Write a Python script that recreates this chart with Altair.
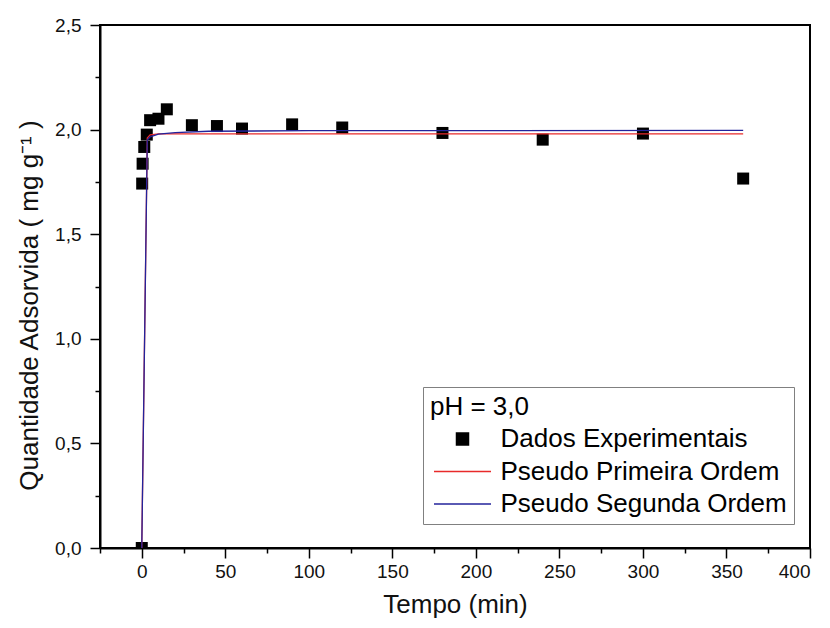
import altair as alt
import pandas as pd

FONT = "Liberation Sans"

# Experimental data (time in min, adsorbed amount in mg/g)
tempo_exp = [0, 0.25, 0.5, 1.5, 3, 5, 10, 15, 30, 45, 60, 90, 120, 180, 240, 300, 360]
q_exp = [0.0, 1.742, 1.837, 1.917, 1.976, 2.045, 2.052, 2.097, 2.021, 2.017, 2.005, 2.025, 2.010, 1.984, 1.952, 1.981, 1.766]

# Pseudo first order curve
tempo_ppo = [0, 3.3, 5, 10, 360]
q_ppo = [0.0, 1.960, 1.975, 1.980, 1.980]

# Pseudo second order curve
tempo_pso = [0, 3.3, 5, 10, 20, 40, 100, 360]
q_pso = [0.0, 1.950, 1.965, 1.978, 1.986, 1.992, 1.995, 1.996]

series = ["Dados Experimentais", "Pseudo Primeira Ordem", "Pseudo Segunda Ordem"]
colors = ["#000000", "#e82a2a", "#23239b"]

x_ticks = [-25, 0, 25, 50, 75, 100, 125, 150, 175, 200, 225, 250, 275, 300, 325, 350, 375, 400]
y_ticks = [0.0, 0.25, 0.5, 0.75, 1.0, 1.25, 1.5, 1.75, 2.0, 2.25, 2.5]

pts = pd.DataFrame({"t": tempo_exp, "q": q_exp, "serie": series[0]})
l1 = pd.DataFrame({"t": tempo_ppo, "q": q_ppo, "serie": series[1]})
l2 = pd.DataFrame({"t": tempo_pso, "q": q_pso, "serie": series[2]})

xs = alt.Scale(domain=[-25, 400], nice=False, zero=False)
ys = alt.Scale(domain=[0, 2.5], nice=False)
cs = alt.Scale(domain=series, range=colors)

legend = alt.Legend(
    title="pH = 3,0",
    orient="none",
    legendX=323,
    legendY=362,
    padding=7,
    strokeColor="#808080",
    fillColor="white",
    titleFontSize=26,
    titleFontWeight="normal",
    titleColor="black",
    titleFont=FONT,
    titlePadding=6,
    labelFontSize=26,
    labelFont=FONT,
    labelColor="black",
    labelLimit=600,
    labelOffset=25,
    symbolOffset=19.5,
    rowPadding=6.5,
    symbolSize=144,
    symbolStrokeWidth=1.5,
    symbolType={"expr": "datum.label == 'Dados Experimentais' ? 'square' : 'M-4.75,0H4.75'"},
    symbolStrokeColor={"expr": "datum.label == 'Pseudo Primeira Ordem' ? '#e82a2a' : (datum.label == 'Pseudo Segunda Ordem' ? '#23239b' : 'black')"},
)

x_axis = alt.Axis(
    values=x_ticks, title="Tempo (min)",
    tickSize={"expr": "datum.value % 50 == 0 ? 10 : 5"},
    labelExpr="datum.value % 50 == 0 ? format(datum.value, 'd') : ''",
    labelPadding=4, labelFontSize=19, labelColor="#111111", labelFont=FONT,
    titleFontSize=26, titlePadding=10, titleFont=FONT, titleFontWeight="normal",
    titleColor="#111111", orient="bottom", grid=False,
    domainColor="black", domainWidth=2, tickColor="black", tickWidth=1.5,
)
y_axis = alt.Axis(
    values=y_ticks, title="Quantidade Adsorvida ( mg g\u207b\u00b9 )",
    tickSize={"expr": "abs(datum.value * 2 - round(datum.value * 2)) < 0.01 ? 10 : 5"},
    labelExpr="abs(datum.value * 2 - round(datum.value * 2)) < 0.01 ? replace(format(datum.value, '.1f'), '.', ',') : ''",
    labelPadding=9, labelFontSize=19, labelColor="#111111", labelFont=FONT,
    titleFontSize=26, titlePadding=12, titleFont=FONT, titleFontWeight="normal",
    titleColor="#111111", orient="left", grid=False, titleY=280,
    domainColor="black", domainWidth=2, tickColor="black", tickWidth=1.5,
)

points = alt.Chart(pts).mark_point(
    shape="square", filled=True, size=144, opacity=1, clip=True
).encode(
    x=alt.X("t:Q", scale=xs, axis=x_axis),
    y=alt.Y("q:Q", scale=ys, axis=y_axis),
    color=alt.Color("serie:N", scale=cs, legend=legend),
)

line1 = alt.Chart(l1).mark_line(strokeWidth=1.3).encode(
    x=alt.X("t:Q", scale=xs),
    y=alt.Y("q:Q", scale=ys),
    color=alt.Color("serie:N", scale=cs, legend=legend),
)

line2 = alt.Chart(l2).mark_line(strokeWidth=1.3).encode(
    x=alt.X("t:Q", scale=xs),
    y=alt.Y("q:Q", scale=ys),
    color=alt.Color("serie:N", scale=cs, legend=legend),
)

chart = alt.layer(points, line1, line2).properties(
    width=710,
    height=523,
    autosize=alt.AutoSizeParams(type="none"),
    padding={"left": 92, "top": 17, "right": 12, "bottom": 72},
).configure(
    font=FONT
).configure_view(
    stroke="black", strokeWidth=2
).configure_axis(
    grid=False, domainColor="black", tickColor="black",
)

chart.save("out.html", embed_options={"renderer": "svg", "actions": False})
